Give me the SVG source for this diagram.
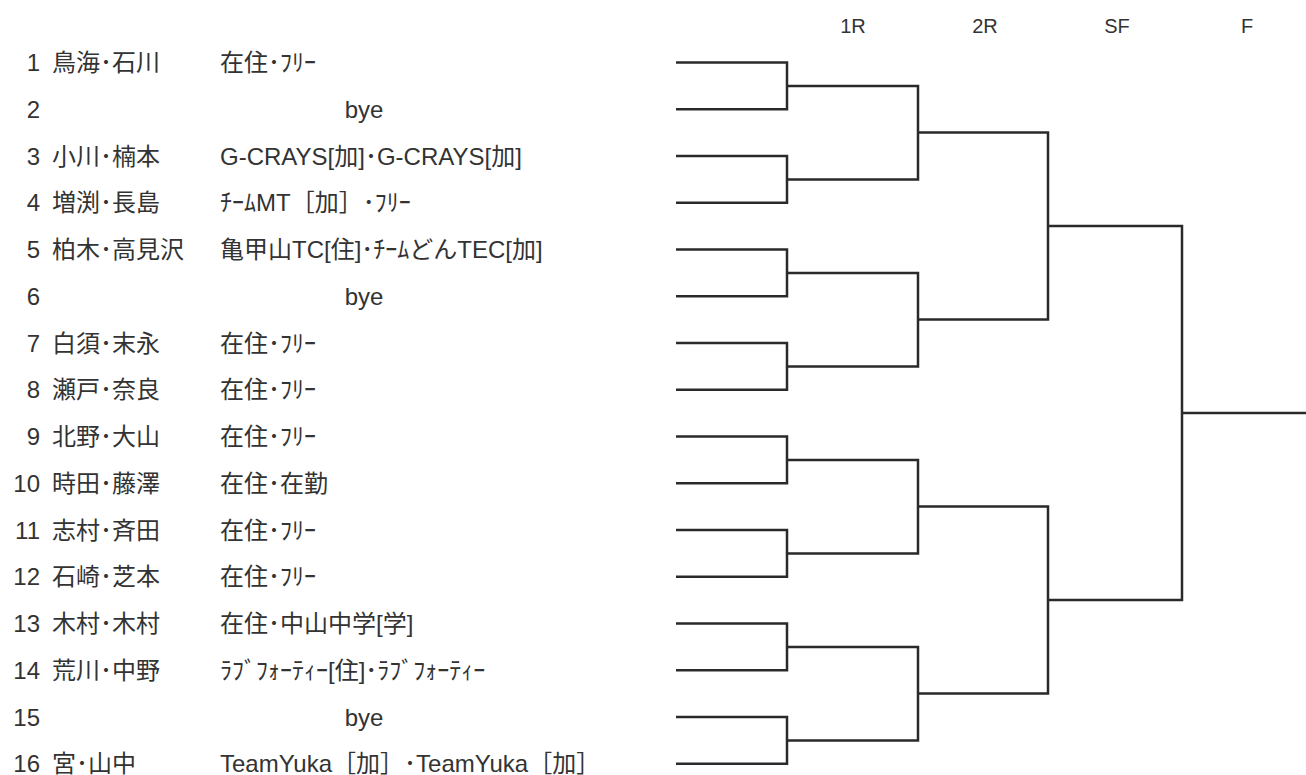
<svg xmlns="http://www.w3.org/2000/svg" width="1306" height="775" viewBox="0 0 1306 775">
<style>
.t{font-family:"Liberation Sans","Noto Sans CJK JP",sans-serif;font-size:24px;fill:#333}
.n{text-anchor:end}
.b{text-anchor:middle}
.h{font-family:"Liberation Sans",sans-serif;font-size:20px;fill:#333;text-anchor:middle}
.c{fill:none;stroke:#2a2a2a;stroke-width:2.5}
</style>
<rect width="1306" height="775" fill="#fff"/>
<g id="headers">
<text class="h" x="853" y="33">1R</text>
<text class="h" x="985" y="33">2R</text>
<text class="h" x="1117" y="33">SF</text>
<text class="h" x="1247" y="33">F</text>
</g>
<g id="entry1"><text class="t n" x="40" y="71">1</text><text class="t" x="52" y="71">鳥海･石川</text><text class="t" x="220" y="71">在住･ﾌﾘｰ</text></g>
<g id="entry2"><text class="t n" x="40" y="118">2</text><text class="t b" x="364" y="118">bye</text></g>
<g id="entry3"><text class="t n" x="40" y="164.5">3</text><text class="t" x="52" y="164.5">小川･楠本</text><text class="t" x="220" y="164.5">G-CRAYS[加]･G-CRAYS[加]</text></g>
<g id="entry4"><text class="t n" x="40" y="211">4</text><text class="t" x="52" y="211">増渕･長島</text><text class="t" x="220" y="211">ﾁｰﾑMT［加］･ﾌﾘｰ</text></g>
<g id="entry5"><text class="t n" x="40" y="258">5</text><text class="t" x="52" y="258">柏木･高見沢</text><text class="t" x="220" y="258">亀甲山TC[住]･ﾁｰﾑどんTEC[加]</text></g>
<g id="entry6"><text class="t n" x="40" y="305">6</text><text class="t b" x="364" y="305">bye</text></g>
<g id="entry7"><text class="t n" x="40" y="351.5">7</text><text class="t" x="52" y="351.5">白須･末永</text><text class="t" x="220" y="351.5">在住･ﾌﾘｰ</text></g>
<g id="entry8"><text class="t n" x="40" y="398">8</text><text class="t" x="52" y="398">瀬戸･奈良</text><text class="t" x="220" y="398">在住･ﾌﾘｰ</text></g>
<g id="entry9"><text class="t n" x="40" y="445">9</text><text class="t" x="52" y="445">北野･大山</text><text class="t" x="220" y="445">在住･ﾌﾘｰ</text></g>
<g id="entry10"><text class="t n" x="40" y="492">10</text><text class="t" x="52" y="492">時田･藤澤</text><text class="t" x="220" y="492">在住･在勤</text></g>
<g id="entry11"><text class="t n" x="40" y="538.5">11</text><text class="t" x="52" y="538.5">志村･斉田</text><text class="t" x="220" y="538.5">在住･ﾌﾘｰ</text></g>
<g id="entry12"><text class="t n" x="40" y="585">12</text><text class="t" x="52" y="585">石崎･芝本</text><text class="t" x="220" y="585">在住･ﾌﾘｰ</text></g>
<g id="entry13"><text class="t n" x="40" y="632">13</text><text class="t" x="52" y="632">木村･木村</text><text class="t" x="220" y="632">在住･中山中学[学]</text></g>
<g id="entry14"><text class="t n" x="40" y="679">14</text><text class="t" x="52" y="679">荒川･中野</text><text class="t" x="220" y="679">ﾗﾌﾞﾌｫｰﾃｨｰ[住]･ﾗﾌﾞﾌｫｰﾃｨｰ</text></g>
<g id="entry15"><text class="t n" x="40" y="725.5">15</text><text class="t b" x="364" y="725.5">bye</text></g>
<g id="entry16"><text class="t n" x="40" y="772">16</text><text class="t" x="52" y="772">宮･山中</text><text class="t" x="220" y="772">TeamYuka［加］･TeamYuka［加］</text></g>
<g id="connectors" class="c">
<path d="M676 62.5H787V109.25H676"/>
<path d="M676 156H787V202.75H676"/>
<path d="M676 249.5H787V296.25H676"/>
<path d="M676 343H787V389.75H676"/>
<path d="M676 436.5H787V483.25H676"/>
<path d="M676 530H787V576.75H676"/>
<path d="M676 623.5H787V670.25H676"/>
<path d="M676 717H787V763.75H676"/>
<path d="M787 85.9H918V179.4H787"/>
<path d="M787 272.9H918V366.4H787"/>
<path d="M787 459.9H918V553.4H787"/>
<path d="M787 646.9H918V740.4H787"/>
<path d="M918 132.6H1048V319.6H918"/>
<path d="M918 506.6H1048V693.6H918"/>
<path d="M1048 226.1H1182V600.1H1048"/>
<path d="M1182 413.1H1306"/>
</g>
</svg>
